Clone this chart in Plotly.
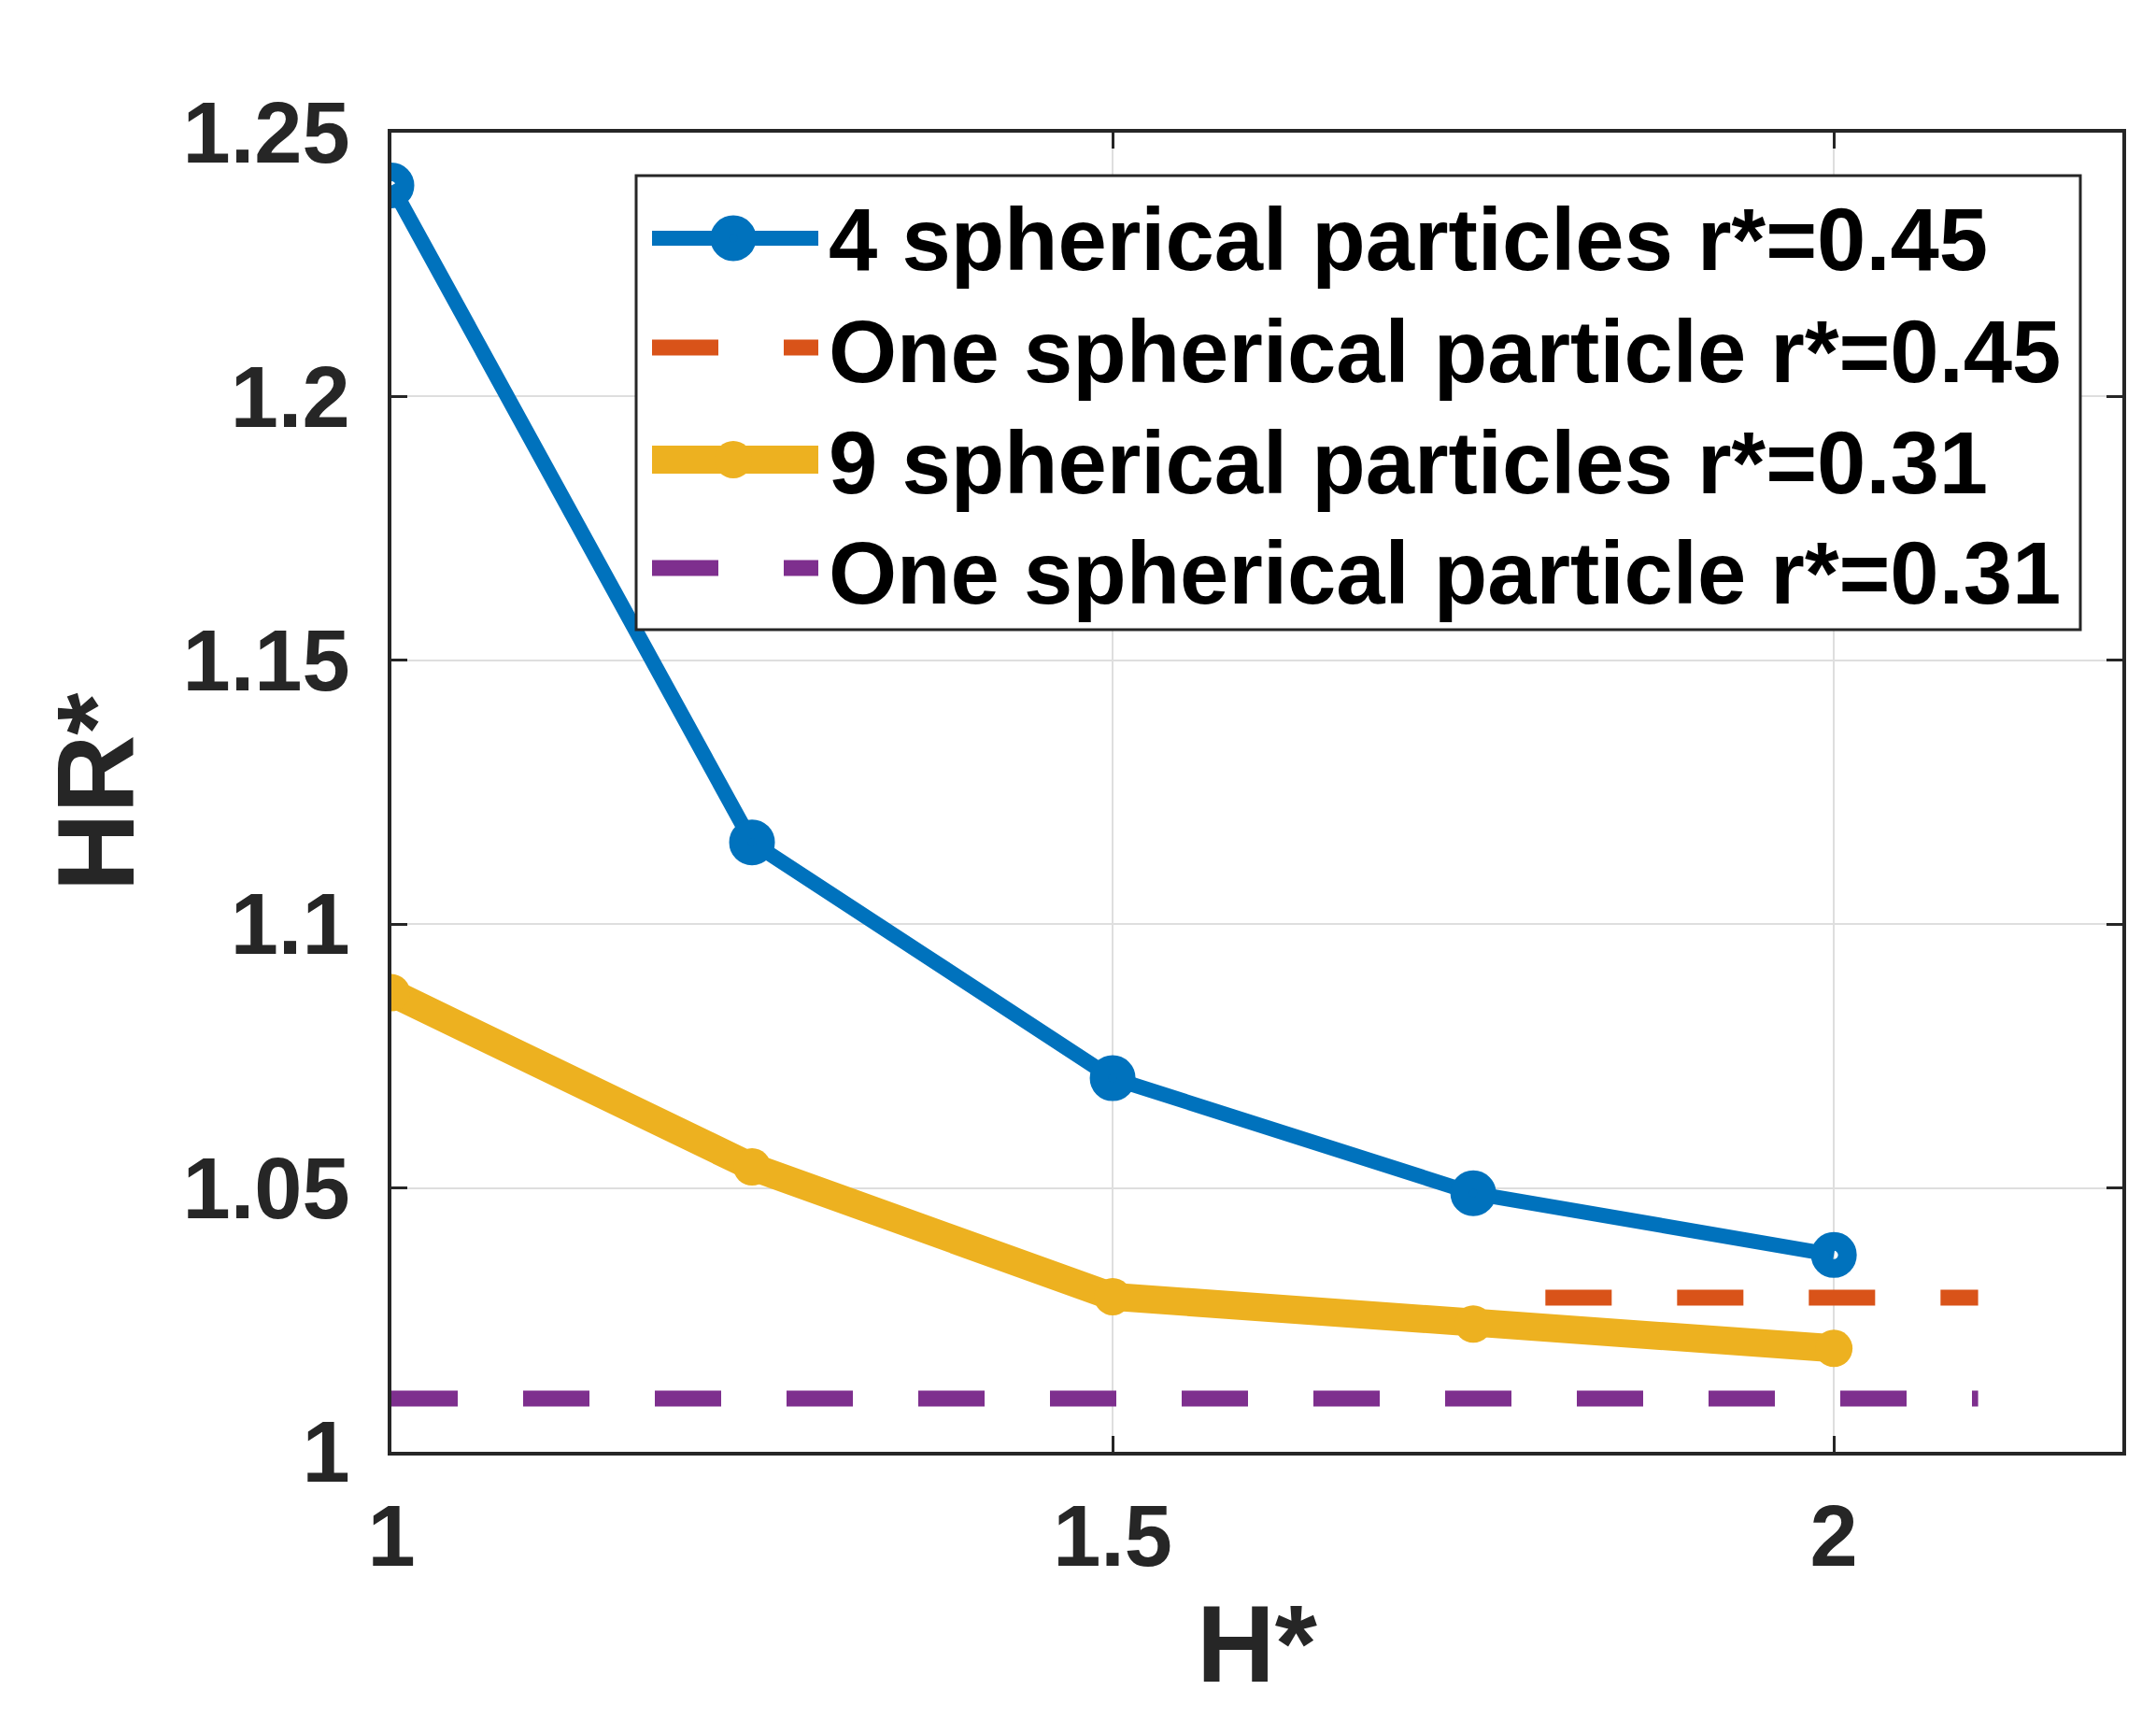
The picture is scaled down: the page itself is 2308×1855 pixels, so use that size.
import plotly.graph_objects as go

# ---- data ----
H = [1.0, 1.25, 1.5, 1.75, 2.0]
hr_4_particles = [1.2400, 1.1155, 1.0708, 1.0490, 1.0373]
hr_9_particles = [1.0870, 1.0540, 1.0294, 1.0242, 1.0196]
one_045_x = [1.8, 2.1]
one_045_y = [1.0292, 1.0292]
one_031_x = [1.0, 2.1]
one_031_y = [1.0101, 1.0101]

x_tick_vals = [1, 1.5, 2]
x_tick_text = ["1", "1.5", "2"]
y_tick_vals = [1, 1.05, 1.1, 1.15, 1.2, 1.25]
y_tick_text = ["1", "1.05", "1.1", "1.15", "1.2", "1.25"]

names = [
    "4 spherical particles r*=0.45",
    "One spherical particle r*=0.45",
    "9 spherical particles r*=0.31",
    "One spherical particle r*=0.31",
]

BLUE = "#0072BD"
ORANGE = "#D95319"
YELLOW = "#EDB120"
PURPLE = "#7E2F8E"
AX = "#262626"
FONT = "Liberation Sans, Arial, sans-serif"
DASH = "71px,70px"

# figure / plot-area geometry (pixels)
W, HT = 2308, 1855
L, R, T, B = 411, 2264, 134, 1546
PW, PH = R - L, B - T


def px(xp):
    return (xp - L) / PW


def py(yp):
    return (B - yp) / PH


styles = [
    dict(color=BLUE, width=16, dash="solid", marker="open"),
    dict(color=ORANGE, width=17, dash=DASH, marker=None),
    dict(color=YELLOW, width=30, dash="solid", marker="dot"),
    dict(color=PURPLE, width=17, dash=DASH, marker=None),
]

fig = go.Figure()
fig.add_trace(go.Scatter(
    x=H, y=hr_4_particles, name=names[0], mode="lines+markers",
    line=dict(color=BLUE, width=16),
    marker=dict(symbol="circle-open", size=29, color=BLUE,
                line=dict(width=20, color=BLUE)),
))
fig.add_trace(go.Scatter(
    x=one_045_x, y=one_045_y, name=names[1], mode="lines",
    line=dict(color=ORANGE, width=17, dash=DASH),
))
fig.add_trace(go.Scatter(
    x=H, y=hr_9_particles, name=names[2], mode="lines+markers",
    line=dict(color=YELLOW, width=30),
    marker=dict(symbol="circle", size=40, color=YELLOW, line=dict(width=0)),
))
fig.add_trace(go.Scatter(
    x=one_031_x, y=one_031_y, name=names[3], mode="lines",
    line=dict(color=PURPLE, width=17, dash=DASH),
))

axis_common = dict(
    showline=True, linecolor=AX, linewidth=4, mirror="allticks",
    ticks="inside", ticklen=17, tickwidth=3, tickcolor=AX,
    showgrid=True, gridcolor="#DEDEDE", gridwidth=2,
    zeroline=False,
    tickfont=dict(family=FONT, size=92, color=AX, weight="bold"),
)

fig.update_xaxes(
    range=[1, 2.2], tickvals=x_tick_vals, ticktext=x_tick_text,
    title=dict(text="H*", font=dict(family=FONT, size=116, color=AX, weight="bold"),
               standoff=25),
    ticklabelstandoff=8,
    **axis_common,
)
fig.update_yaxes(
    range=[1, 1.25], tickvals=y_tick_vals, ticktext=y_tick_text,
    title=dict(text="HR*", font=dict(family=FONT, size=116, color=AX, weight="bold"),
               standoff=14),
    ticklabelstandoff=22,
    **axis_common,
)

# ---- legend drawn as a box with sample lines and labels ----
shapes = [dict(type="rect", xref="paper", yref="paper", layer="above",
               x0=px(673), x1=px(2219), y0=py(666), y1=py(180),
               fillcolor="white", line=dict(color=AX, width=3))]
annotations = []
row_line_y = [247, 364, 484, 600]
row_text_y = [249, 368, 487, 605]
sym_x0, sym_x1, sym_xc, text_x = 690, 868, 777, 878
for name, st, ly, ty in zip(names, styles, row_line_y, row_text_y):
    shapes.append(dict(type="line", xref="paper", yref="paper", layer="above",
                       x0=px(sym_x0), x1=px(sym_x1), y0=py(ly), y1=py(ly),
                       line=dict(color=st["color"], width=st["width"], dash=st["dash"])))
    if st["marker"] == "open":
        r = 14.5
        shapes.append(dict(type="circle", xref="paper", yref="paper", layer="above",
                           x0=px(sym_xc - r), x1=px(sym_xc + r),
                           y0=py(ly + r), y1=py(ly - r),
                           line=dict(color=st["color"], width=20)))
    elif st["marker"] == "dot":
        r = 20
        shapes.append(dict(type="circle", xref="paper", yref="paper", layer="above",
                           x0=px(sym_xc - r), x1=px(sym_xc + r),
                           y0=py(ly + r), y1=py(ly - r),
                           fillcolor=st["color"], line=dict(width=0)))
    annotations.append(dict(xref="paper", yref="paper", x=px(text_x), y=py(ty),
                            xanchor="left", yanchor="middle", showarrow=False,
                            text=name, borderpad=0,
                            font=dict(family=FONT, size=94, color="black", weight="bold")))

fig.update_layout(
    width=W, height=HT,
    margin=dict(l=L, r=W - R, t=T, b=HT - B, autoexpand=False),
    paper_bgcolor="white", plot_bgcolor="white",
    showlegend=False,
    shapes=shapes, annotations=annotations,
)

fig.write_html("out.html")
